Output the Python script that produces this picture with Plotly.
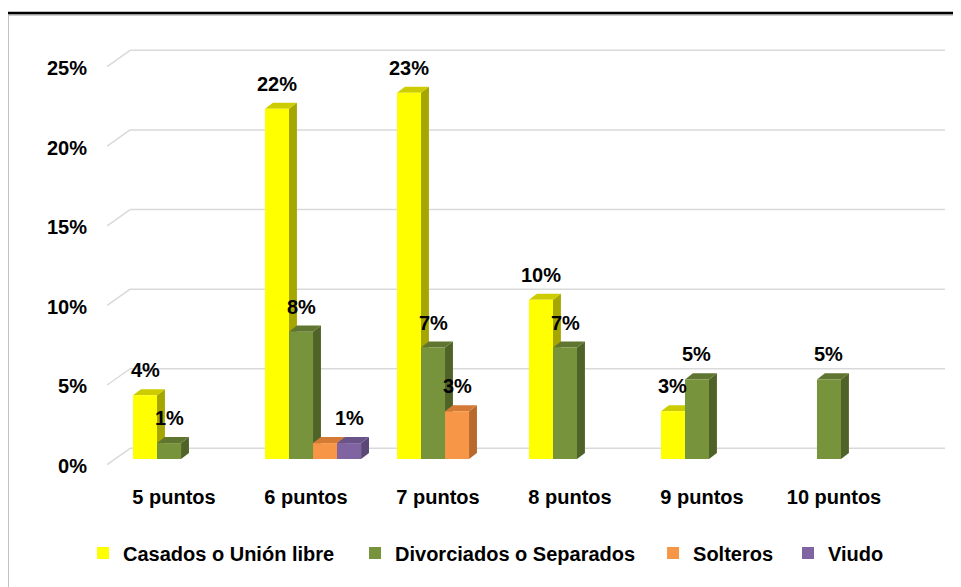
import plotly.graph_objects as go

# Values (share of respondents per score)
categories = ['5 puntos', '6 puntos', '7 puntos', '8 puntos', '9 puntos', '10 puntos']
casados = [0.04, 0.22, 0.23, 0.10, 0.03, 0.0]
divorciados = [0.01, 0.08, 0.07, 0.07, 0.05, 0.05]
solteros = [0.0, 0.01, 0.03, 0.0, 0.0, 0.0]
viudo = [0.0, 0.01, 0.0, 0.0, 0.0, 0.0]
y_ticks = [0, 0.05, 0.10, 0.15, 0.20, 0.25]

# name, values, front colour, top colour, side colour
series = [
    ('Casados o Unión libre', casados, '#FFFF00', '#CCCC00', '#A6A600'),
    ('Divorciados o Separados', divorciados, '#77933C', '#5F7530', '#4F6228'),
    ('Solteros', solteros, '#F79646', '#D47A35', '#B8692C'),
    ('Viudo', viudo, '#8064A2', '#6A5388', '#5C4877'),
]
# the original has no label on this bar
hidden_labels = [('Solteros', '6 puntos')]

# fake 3d geometry, in axis units
bar_w = 0.182
depth_x = 0.06
depth_y = 0.0038
back_y = 0.0067
front_y = -0.0035
x_range = [-0.614, 5.788]
y_range = [-0.0069, 0.2632]
grid_left = -0.386
diag_left = -0.56

# one legend per series so the entries sit where the original has them
legend_x = [-0.0201, 0.3018, 0.6545, 0.8142]

font_family = 'Liberation Sans'
x_pos = list(range(len(categories)))

fig = go.Figure()
shapes = []

# back wall gridlines and the little diagonal at the left
for t in y_ticks:
    shapes.append(dict(type='line', xref='x', yref='y', layer='below',
                       x0=grid_left, x1=x_range[1], y0=t + back_y, y1=t + back_y,
                       line=dict(color='#D9D9D9', width=1.5)))
    shapes.append(dict(type='line', xref='x', yref='y', layer='below',
                       x0=diag_left, x1=grid_left, y0=t + front_y, y1=t + back_y,
                       line=dict(color='#D9D9D9', width=1.5)))

annotations = []
legends = {}
for i, (name, vals, front, top, side) in enumerate(series):
    legend_id = 'legend' if i == 0 else f'legend{i + 1}'
    legends[legend_id] = dict(orientation='h', x=legend_x[i], xanchor='left',
                              y=-0.193, yanchor='middle', bgcolor='rgba(0,0,0,0)',
                              font=dict(size=20, color='black', family=font_family, weight='bold'))
    fig.add_trace(go.Bar(
        x=x_pos, y=vals, name=name, legend=legend_id,
        width=bar_w, offset=(i - 2) * bar_w,
        marker=dict(color=front, line=dict(width=0)),
        hoverinfo='skip'
    ))
    for k, v in enumerate(vals):
        if v <= 0:
            continue
        xl = k + (i - 2) * bar_w
        xr = xl + bar_w
        # side face
        shapes.append(dict(type='path', xref='x', yref='y', layer='between',
                           path=f'M {xr},0 L {xr + depth_x},{depth_y} L {xr + depth_x},{v + depth_y} L {xr},{v} Z',
                           fillcolor=side, line=dict(width=0)))
        # top face
        shapes.append(dict(type='path', xref='x', yref='y', layer='between',
                           path=f'M {xl},{v} L {xl + depth_x},{v + depth_y} L {xr + depth_x},{v + depth_y} L {xr},{v} Z',
                           fillcolor=top, line=dict(width=0)))
        if (name, categories[k]) in hidden_labels:
            continue
        annotations.append(dict(x=(xl + xr) / 2, y=v, xref='x', yref='y',
                                text=f'{v * 100:.0f}%', showarrow=False,
                                yanchor='bottom', yshift=12,
                                font=dict(size=20, color='black', family=font_family, weight='bold')))

# outer frame of the chart box
shapes.append(dict(type='rect', xref='paper', yref='paper', layer='above',
                   x0=-0.111 + 2 / 845, x1=1.05, y0=-0.32, y1=1.063 - 2 / 430,
                   line=dict(color='#BFBFBF', width=1.5)))
shapes.append(dict(type='rect', xref='paper', yref='paper', layer='above',
                   x0=-0.111, x1=1.05, y0=-0.32, y1=1.063,
                   line=dict(color='black', width=2.5)))

tick_font = dict(size=20, color='black', family=font_family, weight='bold')

fig.update_layout(
    width=961, height=587,
    margin=dict(l=92, r=24, t=32, b=125),
    paper_bgcolor='white', plot_bgcolor='white',
    barmode='overlay',
    font=dict(family=font_family),
    shapes=shapes,
    annotations=annotations,
    xaxis=dict(range=x_range, tickmode='array', tickvals=x_pos, ticktext=categories,
               ticks='outside', ticklen=9, tickcolor='rgba(0,0,0,0)', ticklabelshift=-7,
               showgrid=False, zeroline=False, showline=False, tickfont=tick_font),
    yaxis=dict(range=y_range, tickmode='array', tickvals=y_ticks, tickformat='.0%',
               ticks='outside', ticklen=8, tickcolor='rgba(0,0,0,0)', ticklabelshift=7,
               showgrid=False, zeroline=False, showline=False, tickfont=tick_font),
    showlegend=True,
    **legends,
)

fig.write_html("out.html")
